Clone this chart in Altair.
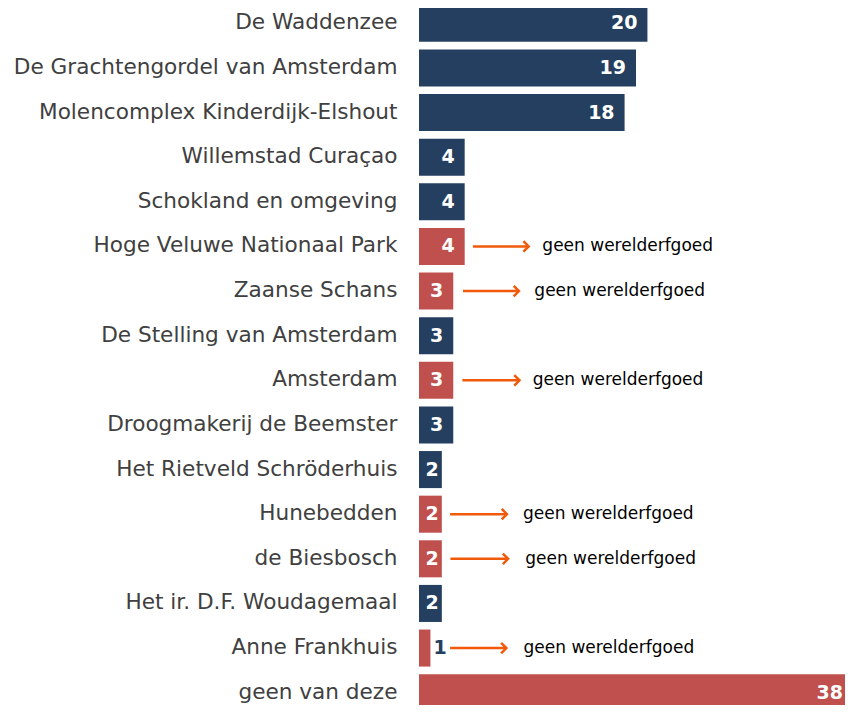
import altair as alt
import pandas as pd

categories = [
    "De Waddenzee",
    "De Grachtengordel van Amsterdam",
    "Molencomplex Kinderdijk-Elshout",
    "Willemstad Curaçao",
    "Schokland en omgeving",
    "Hoge Veluwe Nationaal Park",
    "Zaanse Schans",
    "De Stelling van Amsterdam",
    "Amsterdam",
    "Droogmakerij de Beemster",
    "Het Rietveld Schröderhuis",
    "Hunebedden",
    "de Biesbosch",
    "Het ir. D.F. Woudagemaal",
    "Anne Frankhuis",
    "geen van deze",
]
values = [20, 19, 18, 4, 4, 4, 3, 3, 3, 3, 2, 2, 2, 2, 1, 38]
kinds = ["wel", "wel", "wel", "wel", "wel", "niet", "niet", "wel", "niet", "wel",
         "wel", "niet", "niet", "wel", "niet", "niet"]

ann_cats = ["Hoge Veluwe Nationaal Park", "Zaanse Schans", "Amsterdam",
            "Hunebedden", "de Biesbosch", "Anne Frankhuis"]
arrow_from = [4.72, 3.85, 3.8, 2.72, 2.75, 2.72]
arrow_to = [9.6, 8.75, 8.8, 7.7, 7.8, 7.65]
text_x = [10.8, 10.1, 9.95, 9.1, 9.3, 9.15]
ann_text = ["geen werelderfgoed"] * 6

df = pd.DataFrame({"cat": categories, "value": values, "kind": kinds})
ann = pd.DataFrame({"cat": ann_cats, "x1": arrow_from, "x2": arrow_to,
                    "tx": text_x, "label": ann_text})

FONT = "DejaVu Sans"
ORANGE = "#F05A0A"

y = alt.Y(
    "cat:N",
    sort=categories,
    scale=alt.Scale(paddingInner=0.17, paddingOuter=0.085),
    axis=alt.Axis(title=None, domain=False, ticks=False, labelPadding=22,
                  labelFontSize=21.6, labelFont=FONT, labelColor="#404040",
                  labelLimit=420),
)
xscale = alt.Scale(domain=[0, 38], nice=False, zero=True)

bars = alt.Chart(df).mark_bar().encode(
    y=y,
    x=alt.X("value:Q", scale=xscale, axis=None),
    color=alt.Color("kind:N", scale=alt.Scale(domain=["wel", "niet"],
                                              range=["#243F60", "#C0504D"]),
                    legend=None),
)

inside_wide = alt.Chart(df).transform_filter("datum.value >= 3").mark_text(
    align="right", baseline="middle", dx=-10, font=FONT, fontSize=19,
    fontWeight="bold", color="white"
).encode(y=y, x=alt.X("value:Q", scale=xscale), text="value:Q")

inside_narrow = alt.Chart(df).transform_filter("datum.value == 2").mark_text(
    align="right", baseline="middle", dx=-3, font=FONT, fontSize=19,
    fontWeight="bold", color="white"
).encode(y=y, x=alt.X("value:Q", scale=xscale), text="value:Q")

outside = alt.Chart(df).transform_filter("datum.value < 2").mark_text(
    align="left", baseline="middle", dx=3, font=FONT, fontSize=19,
    fontWeight="bold", color="#243F60"
).encode(y=y, x=alt.X("value:Q", scale=xscale), text="value:Q")

rules = alt.Chart(ann).mark_rule(color=ORANGE, strokeWidth=2.5).encode(
    y=y, x=alt.X("x1:Q", scale=xscale), x2="x2:Q"
)

heads = alt.Chart(ann).mark_point(
    shape="M-1,-1L0,0L-1,1", filled=False, size=110, strokeWidth=2.5,
    color=ORANGE, opacity=1
).encode(y=y, x=alt.X("x2:Q", scale=xscale))

labels = alt.Chart(ann).mark_text(
    align="left", baseline="middle", font=FONT, fontSize=17, color="#000000"
).encode(y=y, x=alt.X("tx:Q", scale=xscale), text="label:N")

chart = alt.layer(bars, inside_wide, inside_narrow, outside, rules, heads,
                  labels).properties(
    width=434,
    height=714,
    autosize=alt.AutoSizeParams(type="none"),
    padding={"left": 411, "top": -7, "right": -8, "bottom": -10},
    background="white",
).configure_view(stroke=None)

chart.save("out.html", embed_options={"renderer": "svg", "actions": False})
